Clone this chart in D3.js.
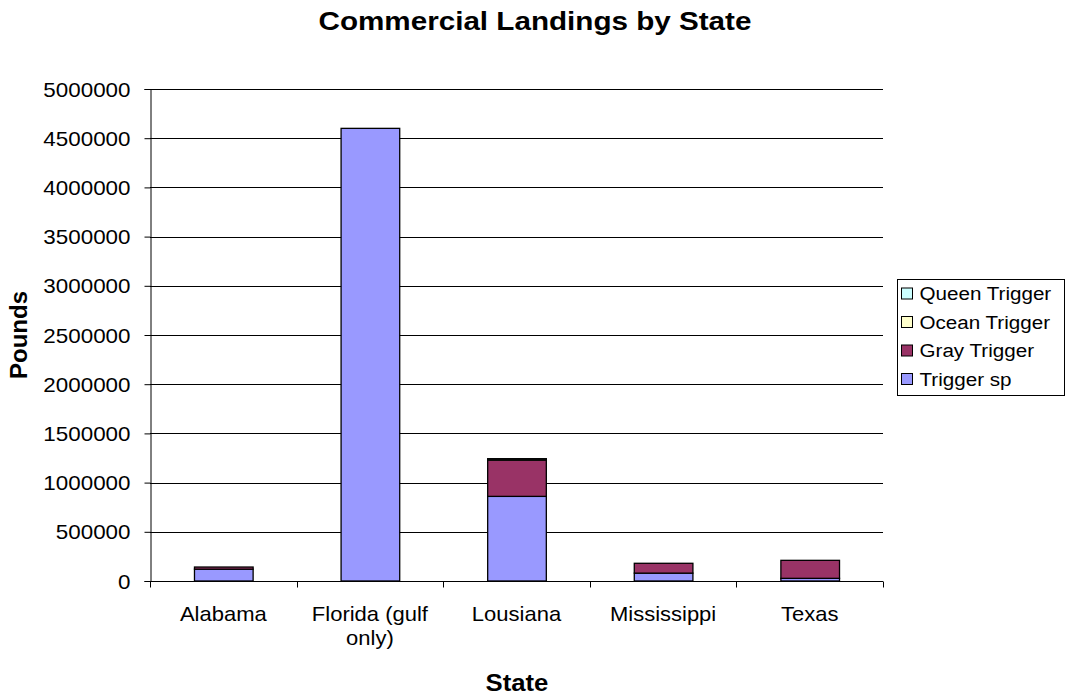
<!DOCTYPE html>
<html>
<head>
<meta charset="utf-8">
<script src="https://cdn.jsdelivr.net/npm/d3@7"></script>
<style>
  html, body { margin: 0; padding: 0; background: #fff; }
  svg { display: block; font-family: Arial, "Liberation Sans", sans-serif; }
</style>
</head>
<body>
<svg id="chart" width="1070" height="698"></svg>
<script>
// Commercial landings (pounds) by state, stacked by species
const states = ["Alabama", "Florida (gulf only)", "Lousiana", "Mississippi", "Texas"];
const triggerSp = [120000, 4600000, 860000, 80000, 27000];
const grayTrigger = [22000, 0, 368000, 100000, 183000];
const oceanTrigger = [0, 0, 10000, 0, 0];
const queenTrigger = [0, 0, 5000, 0, 0];
const seriesNames = ["Trigger sp", "Gray Trigger", "Ocean Trigger", "Queen Trigger"];
const seriesColors = ["#9999FF", "#993366", "#FFFFCC", "#CCFFFF"];
const yTicks = [0, 500000, 1000000, 1500000, 2000000, 2500000, 3000000, 3500000, 4000000, 4500000, 5000000];

const svg = d3.select("#chart");
const plot = { left: 150, right: 883, top: 89, bottom: 581 };

// Widen a text element horizontally about its anchor point
function widen(sel, sx) {
  sel.each(function() {
    const t = d3.select(this);
    const x = +t.attr("x") || 0, y = +t.attr("y") || 0;
    t.attr("transform", `translate(${x},${y}) scale(${sx},1) translate(${-x},${-y})`);
  });
}

const rows = states.map((s, i) => ({
  state: s,
  "Trigger sp": triggerSp[i],
  "Gray Trigger": grayTrigger[i],
  "Ocean Trigger": oceanTrigger[i],
  "Queen Trigger": queenTrigger[i]
}));
const stacked = d3.stack().keys(seriesNames)(rows);

const x = d3.scaleBand().domain(states).range([plot.left, plot.right]).paddingInner(0.6).paddingOuter(0.3);
const xOuter = d3.scaleBand().domain(states).range([plot.left, plot.right]);
const y = d3.scaleLinear().domain([0, 5000000]).range([plot.bottom, plot.top]);

// Gridlines
svg.append("g").selectAll("line").data(yTicks.slice(1)).join("line")
  .attr("x1", plot.left).attr("x2", plot.right)
  .attr("y1", d => Math.round(y(d)) + 0.5).attr("y2", d => Math.round(y(d)) + 0.5)
  .attr("stroke", "#000").attr("stroke-width", 1);

// Y axis
const yAxis = svg.append("g").attr("transform", `translate(${plot.left + 0.5},0)`)
  .call(d3.axisLeft(y).tickValues(yTicks).tickFormat(d3.format("d")).tickSize(6).tickPadding(14));
yAxis.select(".domain").attr("stroke", "#000");
yAxis.selectAll(".tick line").attr("stroke", "#000");
yAxis.selectAll("text").attr("font-size", 20).attr("fill", "#000").attr("dy", "0.35em")
  .attr("font-family", "Arial, 'Liberation Sans', sans-serif");
widen(yAxis.selectAll("text"), 1.12);

// Bars
svg.append("g").selectAll("g").data(stacked).join("g")
  .attr("fill", (d, i) => seriesColors[i])
  .selectAll("rect").data(d => d.filter(p => p[1] - p[0] > 0)).join("rect")
  .attr("x", d => x(d.data.state) + 0.5)
  .attr("width", x.bandwidth())
  .attr("y", d => y(d[1]))
  .attr("height", d => y(d[0]) - y(d[1]))
  .attr("stroke", "#000").attr("stroke-width", 1.3);

// X axis
const xAxisG = svg.append("g").attr("transform", `translate(0,${plot.bottom + 0.5})`);
xAxisG.append("line").attr("x1", plot.left).attr("x2", plot.right).attr("stroke", "#000");
const bounds = states.map(s => xOuter(s)).concat([plot.right]);
xAxisG.selectAll("line.tk").data(bounds).join("line").attr("class", "tk")
  .attr("x1", d => Math.round(d) + 0.5).attr("x2", d => Math.round(d) + 0.5)
  .attr("y1", 0).attr("y2", 6).attr("stroke", "#000");
const catLines = { "Florida (gulf only)": ["Florida (gulf", "only)"] };
const catText = xAxisG.selectAll("text").data(states).join("text")
  .attr("x", d => xOuter(d) + xOuter.bandwidth() / 2)
  .attr("y", 40)
  .attr("text-anchor", "middle").attr("font-size", 20).attr("fill", "#000")
  .each(function(d) {
    const lines = catLines[d] || [d];
    d3.select(this).selectAll("tspan").data(lines).join("tspan")
      .attr("x", xOuter(d) + xOuter.bandwidth() / 2)
      .attr("dy", (l, i) => i === 0 ? 0 : 24)
      .text(l => l);
  });
widen(catText, 1.1);

// Titles
const title = svg.append("text").attr("x", 535).attr("y", 30).attr("text-anchor", "middle")
  .attr("font-size", 26).attr("font-weight", "bold").text("Commercial Landings by State");
widen(title, 1.14);
const xTitle = svg.append("text").attr("x", 517).attr("y", 691).attr("text-anchor", "middle")
  .attr("font-size", 24).attr("font-weight", "bold").text("State");
widen(xTitle, 1.07);
svg.append("text").attr("transform", "translate(27,335) rotate(-90)").attr("text-anchor", "middle")
  .attr("font-size", 24).attr("font-weight", "bold").text("Pounds");

// Legend
const legend = svg.append("g").attr("transform", "translate(897.5,279.5)");
legend.append("rect").attr("width", 167).attr("height", 116).attr("fill", "#fff").attr("stroke", "#000");
const legendOrder = [3, 2, 1, 0];
legendOrder.forEach((si, k) => {
  const gy = 14 + k * 28.5;
  legend.append("rect").attr("x", 4).attr("y", gy - 5.5).attr("width", 11).attr("height", 11)
    .attr("fill", seriesColors[si]).attr("stroke", "#000");
  const t = legend.append("text").attr("x", 22).attr("y", gy + 7).attr("font-size", 19).text(seriesNames[si]);
  widen(t, 1.085);
});
</script>
</body>
</html>
